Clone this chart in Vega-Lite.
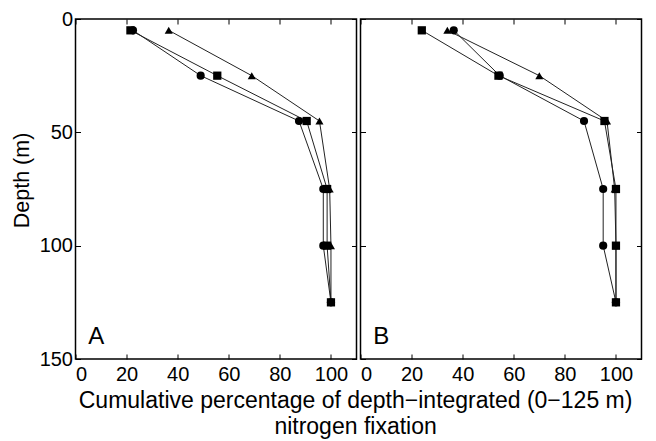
{
  "$schema": "https://vega.github.io/schema/vega-lite/v6.json",
  "padding": {"left": 9.5, "top": 8, "right": 10, "bottom": 0},
  "background": "white",
  "datasets": {
    "pts": [
      {"panel": "A", "series": "triangle", "depth": 5, "pct": 36.5},
      {"panel": "A", "series": "triangle", "depth": 25, "pct": 69},
      {"panel": "A", "series": "triangle", "depth": 45, "pct": 95.5},
      {"panel": "A", "series": "triangle", "depth": 75, "pct": 99.5},
      {"panel": "A", "series": "triangle", "depth": 100, "pct": 100},
      {"panel": "A", "series": "triangle", "depth": 125, "pct": 100},
      {"panel": "A", "series": "square", "depth": 5, "pct": 21.5},
      {"panel": "A", "series": "square", "depth": 25, "pct": 55.5},
      {"panel": "A", "series": "square", "depth": 45, "pct": 90.5},
      {"panel": "A", "series": "square", "depth": 75, "pct": 98.5},
      {"panel": "A", "series": "square", "depth": 100, "pct": 98.5},
      {"panel": "A", "series": "square", "depth": 125, "pct": 100},
      {"panel": "A", "series": "circle", "depth": 5, "pct": 22.5},
      {"panel": "A", "series": "circle", "depth": 25, "pct": 49},
      {"panel": "A", "series": "circle", "depth": 45, "pct": 87.5},
      {"panel": "A", "series": "circle", "depth": 75, "pct": 97},
      {"panel": "A", "series": "circle", "depth": 100, "pct": 97},
      {"panel": "A", "series": "circle", "depth": 125, "pct": 100},
      {"panel": "B", "series": "triangle", "depth": 5, "pct": 34},
      {"panel": "B", "series": "triangle", "depth": 25, "pct": 70},
      {"panel": "B", "series": "triangle", "depth": 45, "pct": 96.5},
      {"panel": "B", "series": "triangle", "depth": 75, "pct": 99.5},
      {"panel": "B", "series": "triangle", "depth": 100, "pct": 100},
      {"panel": "B", "series": "triangle", "depth": 125, "pct": 100},
      {"panel": "B", "series": "square", "depth": 5, "pct": 24},
      {"panel": "B", "series": "square", "depth": 25, "pct": 54},
      {"panel": "B", "series": "square", "depth": 45, "pct": 95.5},
      {"panel": "B", "series": "square", "depth": 75, "pct": 100},
      {"panel": "B", "series": "square", "depth": 100, "pct": 100},
      {"panel": "B", "series": "square", "depth": 125, "pct": 100},
      {"panel": "B", "series": "circle", "depth": 5, "pct": 36.5},
      {"panel": "B", "series": "circle", "depth": 25, "pct": 54.5},
      {"panel": "B", "series": "circle", "depth": 45, "pct": 87.5},
      {"panel": "B", "series": "circle", "depth": 75, "pct": 95},
      {"panel": "B", "series": "circle", "depth": 100, "pct": 95},
      {"panel": "B", "series": "circle", "depth": 125, "pct": 100}
    ]
  },
  "title": {
    "text": ["Cumulative percentage of depth\u2212integrated (0\u2212125 m)", "nitrogen fixation"],
    "orient": "bottom",
    "anchor": "middle",
    "fontSize": 23,
    "fontWeight": "normal",
    "font": "Liberation Sans",
    "color": "black",
    "lineHeight": 26,
    "offset": 5,
    "dx": 29
  },
  "spacing": 0,
  "hconcat": [
    {
      "width": 281,
      "height": 340,
      "layer": [
        {
          "data": {"name": "pts"},
          "transform": [{"filter": "datum.panel == 'A'"}],
          "mark": {"type": "line", "color": "#222222", "strokeWidth": 1},
          "encoding": {
            "x": {"field": "pct", "type": "quantitative", "scale": {"domain": [0, 110], "nice": false},
                  "axis": {"orient": "bottom", "values": [0, 20, 40, 60, 80, 100], "title": null}},
            "y": {"field": "depth", "type": "quantitative", "scale": {"domain": [0, 150], "reverse": true, "nice": false},
                  "axis": {"orient": "left", "values": [0, 50, 100, 150], "title": "Depth (m)", "titleY": 161}},
            "detail": {"field": "series"},
            "order": {"field": "depth"}
          }
        },
        {
          "data": {"name": "pts"},
          "transform": [{"filter": "datum.panel == 'A'"}],
          "mark": {"type": "point", "filled": true, "color": "black", "opacity": 1},
          "encoding": {
            "x": {"field": "pct", "type": "quantitative",
                  "axis": {"orient": "top", "values": [0, 20, 40, 60, 80, 100], "labels": false, "title": null}},
            "y": {"field": "depth", "type": "quantitative",
                  "axis": {"orient": "right", "values": [0, 50, 100, 150], "labels": false, "title": null}},
            "shape": {"field": "series", "type": "nominal", "legend": null,
                      "scale": {"domain": ["square", "circle", "triangle"], "range": ["square", "circle", "triangle-up"]}},
            "size": {"field": "series", "type": "nominal", "legend": null,
                     "scale": {"domain": ["square", "circle", "triangle"], "range": [68, 65, 130]}}
          }
        },
        {
          "data": {"values": [{"label": "A"}]},
          "mark": {"type": "text", "align": "left", "baseline": "alphabetic", "fontSize": 24, "font": "Liberation Sans", "color": "black"},
          "encoding": {
            "x": {"datum": 5, "type": "quantitative", "axis": null},
            "y": {"datum": 143.5, "type": "quantitative", "axis": null},
            "text": {"field": "label"}
          }
        }
      ],
      "resolve": {"axis": {"x": "independent", "y": "independent"}}
    },
    {
      "width": 281,
      "height": 340,
      "layer": [
        {
          "data": {"name": "pts"},
          "transform": [{"filter": "datum.panel == 'B'"}],
          "mark": {"type": "line", "color": "#222222", "strokeWidth": 1},
          "encoding": {
            "x": {"field": "pct", "type": "quantitative", "scale": {"domain": [0, 110], "nice": false},
                  "axis": {"orient": "bottom", "values": [0, 20, 40, 60, 80, 100], "title": null}},
            "y": {"field": "depth", "type": "quantitative", "scale": {"domain": [0, 150], "reverse": true, "nice": false},
                  "axis": {"orient": "left", "values": [0, 50, 100, 150], "labels": false, "title": null}},
            "detail": {"field": "series"},
            "order": {"field": "depth"}
          }
        },
        {
          "data": {"name": "pts"},
          "transform": [{"filter": "datum.panel == 'B'"}],
          "mark": {"type": "point", "filled": true, "color": "black", "opacity": 1},
          "encoding": {
            "x": {"field": "pct", "type": "quantitative",
                  "axis": {"orient": "top", "values": [0, 20, 40, 60, 80, 100], "labels": false, "title": null}},
            "y": {"field": "depth", "type": "quantitative",
                  "axis": {"orient": "right", "values": [0, 50, 100, 150], "labels": false, "title": null}},
            "shape": {"field": "series", "type": "nominal", "legend": null,
                      "scale": {"domain": ["square", "circle", "triangle"], "range": ["square", "circle", "triangle-up"]}},
            "size": {"field": "series", "type": "nominal", "legend": null,
                     "scale": {"domain": ["square", "circle", "triangle"], "range": [68, 65, 130]}}
          }
        },
        {
          "data": {"values": [{"label": "B"}]},
          "mark": {"type": "text", "align": "left", "baseline": "alphabetic", "fontSize": 24, "font": "Liberation Sans", "color": "black"},
          "encoding": {
            "x": {"datum": 5, "type": "quantitative", "axis": null},
            "y": {"datum": 143.5, "type": "quantitative", "axis": null},
            "text": {"field": "label"}
          }
        }
      ],
      "resolve": {"axis": {"x": "independent", "y": "independent"}}
    }
  ],
  "config": {
    "font": "Liberation Sans",
    "view": {"stroke": "black", "strokeWidth": 1.5},
    "axis": {
      "domain": false,
      "grid": false,
      "tickSize": -5,
      "tickColor": "black",
      "tickWidth": 1,
      "labelPadding": 8,
      "labelFontSize": 20,
      "labelColor": "black",
      "labelFont": "Liberation Sans",
      "titleFont": "Liberation Sans",
      "titleFontSize": 21.5,
      "titleFontWeight": "normal",
      "titleColor": "black",
      "titlePadding": 6
    },
    "axisX": {"labelPadding": 10}
  }
}
